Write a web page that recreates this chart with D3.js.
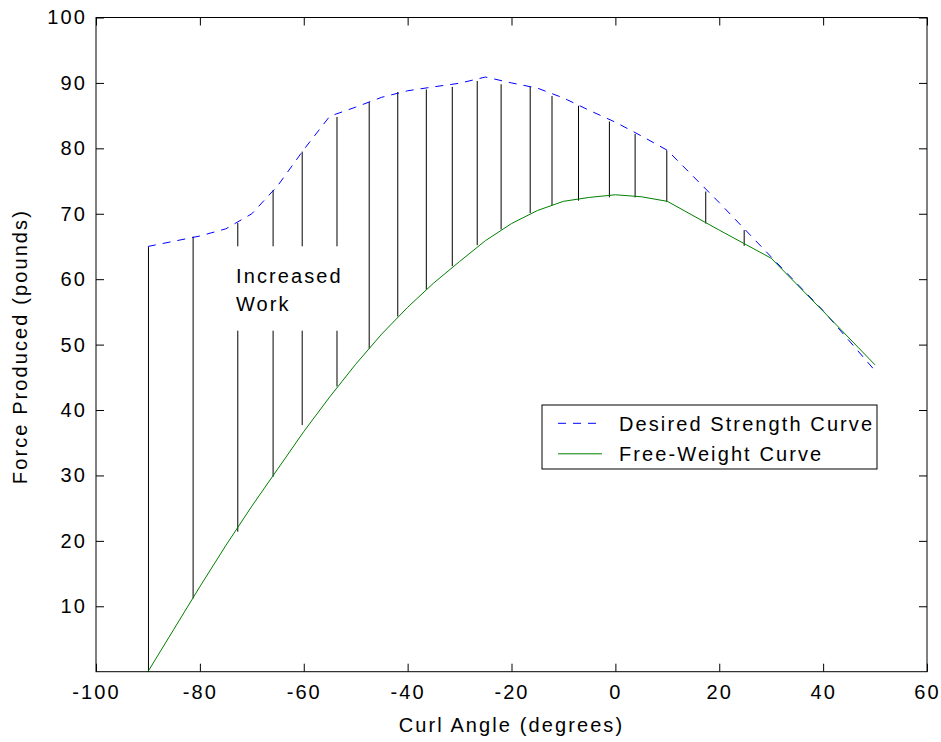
<!DOCTYPE html>
<html>
<head>
<meta charset="utf-8">
<script src="https://cdn.jsdelivr.net/npm/d3@7"></script>
<style>
  html, body { margin: 0; padding: 0; background: #fff; }
  svg text { font-family: "Liberation Sans", Arial, sans-serif; font-size: 20px; letter-spacing: 2.1px; fill: #000; }
</style>
</head>
<body>
<svg id="chart" width="941" height="742"></svg>
<script>
// ---- data ----
const desiredAngle = [-90,-85,-80,-75,-70,-65,-60,-55,-50,-45,-40,-35,-30,-25,-20,-15,-10,-5,0,5,10,20,30,40,50];
const desiredForce = [65,65.8,66.6,67.7,70,74.3,79.8,84.9,86.3,87.8,88.8,89.4,89.95,90.9,90.0,89.2,87.7,85.8,84.0,81.9,79.7,71.7,63.4,55.2,46];

const freeAngle = [-90,-85,-80,-75,-70,-65,-60,-55,-50,-45,-40,-35,-30,-25,-20,-15,-10,-5,0,5,10,20,30,40,50];
const freeForce = [0,6.5,13,19.3,25.3,31,36.7,42,47,51.6,55.7,59.4,62.7,65.9,68.5,70.5,71.9,72.5,72.9,72.6,71.9,67.5,63.2,55.1,46.9];

const hatchAngle  = [-89.9,-81.3,-72.7,-65.9,-60.3,-53.6,-47.4,-41.9,-36.4,-31.4,-26.6,-22,-16.4,-12.2,-7.1,-1.15,3.8,9.9,17.4,24.8];
const hatchTop    = [64.9,66.5,68.6,73.6,79.5,84.8,87.1,88.6,89.0,89.4,90.3,89.8,89.4,88.0,86.5,84.1,82.2,79.7,73.4,67.5];
const hatchBottom = [0,11.2,21.4,29.8,37.7,43.6,49.4,54.3,58.4,62.0,65.2,67.6,70.1,71.3,72.0,72.5,72.5,71.8,68.5,65.1];

const xTicks = [-100,-80,-60,-40,-20,0,20,40,60];
const yTicks = [10,20,30,40,50,60,70,80,90,100];

const xLabel = "Curl Angle (degrees)";
const yLabel = "Force Produced (pounds)";
const legendLabels = ["Desired Strength Curve", "Free-Weight Curve"];
const noteLines = ["Increased", "Work"];

// ---- layout ----
const svg = d3.select("#chart");
const L = 96, R = 927, T = 17.5, B = 671.7;
const x = d3.scaleLinear().domain([-100, 60]).range([L, R]);
const y = d3.scaleLinear().domain([0, 100]).range([B, T]);
const fmt = d => String(d); // plain hyphen-minus, as in the original

const desired = desiredAngle.map((a, i) => [a, desiredForce[i]]);
const free = freeAngle.map((a, i) => [a, freeForce[i]]);
const line = d3.line().x(d => x(d[0])).y(d => y(d[1]));

// hatch lines
svg.append("g").selectAll("line").data(hatchAngle).join("line")
  .attr("x1", d => x(d)).attr("x2", d => x(d))
  .attr("y1", (d, i) => y(hatchTop[i])).attr("y2", (d, i) => y(hatchBottom[i]))
  .attr("stroke", "#000").attr("stroke-width", 1);

// curves
svg.append("path").datum(desired).attr("d", line)
  .attr("fill", "none").attr("stroke", "#0000ff").attr("stroke-width", 1)
  .attr("stroke-dasharray", "8,7");
svg.append("path").datum(free).attr("d", line)
  .attr("fill", "none").attr("stroke", "#008000").attr("stroke-width", 1);

// annotation with white background
const note = svg.append("g");
const bg = note.append("rect").attr("fill", "#fff");
const noteText = note.append("text");
noteText.selectAll("tspan").data(noteLines).join("tspan")
  .attr("x", 236).attr("y", (d, i) => 283.3 + i * 27.4).text(d => d);
const bb = noteText.node().getBBox();
bg.attr("x", bb.x - 6).attr("y", bb.y - 19).attr("width", bb.width + 8).attr("height", bb.height + 35);

// frame
svg.append("rect").attr("x", L).attr("y", T).attr("width", R - L).attr("height", B - T)
  .attr("fill", "none").attr("stroke", "#000").attr("stroke-width", 1);

// axes
function styleAxis(g) {
  g.select(".domain").remove();
  g.selectAll(".tick line").attr("stroke", "#000");
  g.selectAll(".tick text").attr("fill", "#000").attr("font-size", null).attr("font-family", null);
}
svg.append("g").attr("transform", `translate(0,${B})`)
  .call(d3.axisBottom(x).tickValues(xTicks).tickSizeInner(-8).tickSizeOuter(0).tickPadding(13).tickFormat(fmt))
  .call(styleAxis);
svg.append("g").attr("transform", `translate(0,${T})`)
  .call(d3.axisTop(x).tickValues(xTicks).tickSizeInner(-8).tickSizeOuter(0).tickFormat(""))
  .call(styleAxis);
svg.append("g").attr("transform", `translate(${L},0)`)
  .call(d3.axisLeft(y).tickValues(yTicks).tickSizeInner(-8).tickSizeOuter(0).tickPadding(9).tickFormat(fmt))
  .call(styleAxis);
svg.append("g").attr("transform", `translate(${R},0)`)
  .call(d3.axisRight(y).tickValues(yTicks).tickSizeInner(-8).tickSizeOuter(0).tickFormat(""))
  .call(styleAxis);

// axis labels
svg.append("text").attr("x", (L + R) / 2).attr("y", 732).attr("text-anchor", "middle").text(xLabel);
svg.append("text").attr("transform", `translate(27,${(T + B) / 2 + 2}) rotate(-90)`).attr("text-anchor", "middle").text(yLabel);

// legend
const lg = svg.append("g");
lg.append("rect").attr("x", 542).attr("y", 405).attr("width", 335).attr("height", 64)
  .attr("fill", "#fff").attr("stroke", "#000").attr("stroke-width", 1);
const legendStyles = [
  { color: "#0000ff", dash: "8,7" },
  { color: "#008000", dash: null }
];
legendLabels.forEach((lab, i) => {
  const cy = 423.3 + i * 30.5;
  lg.append("line").attr("x1", 558).attr("x2", 602).attr("y1", cy).attr("y2", cy)
    .attr("stroke", legendStyles[i].color).attr("stroke-width", 1)
    .attr("stroke-dasharray", legendStyles[i].dash);
  lg.append("text").attr("x", 619).attr("y", cy + 7.2).text(lab);
});
</script>
</body>
</html>
